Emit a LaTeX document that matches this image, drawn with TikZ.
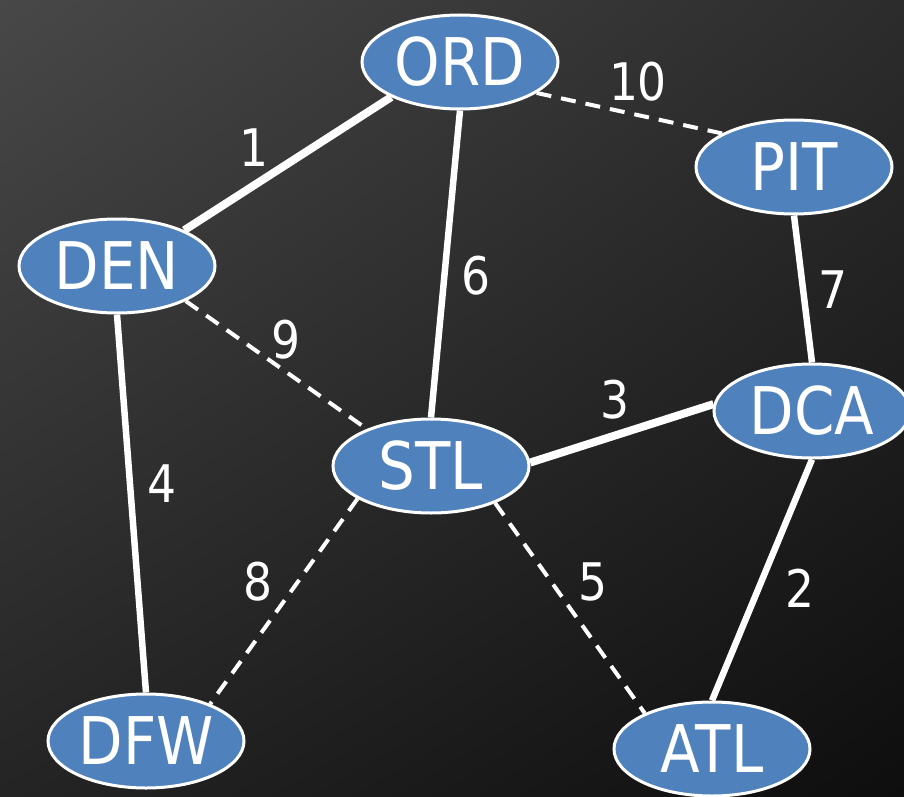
\documentclass[tikz,border=0pt]{standalone}
\usepackage{fontspec}
\setmainfont{DejaVu Sans}[FakeStretch=0.88]
\usetikzlibrary{shapes.geometric,shadings}
\definecolor{nodeblue}{HTML}{4F81BD}
\definecolor{bgA}{HTML}{484848}
\definecolor{bgB}{HTML}{2C2C2C}
\definecolor{bgC}{HTML}{242424}
\definecolor{bgD}{HTML}{0E0E0E}
\tikzset{
  city/.style={ellipse, draw=white, line width=3bp, fill=nodeblue,
    minimum width=196bp, minimum height=94bp, inner sep=0pt,
    text=white, font=\fontsize{66}{70}\selectfont},
  road/.style={draw=white, line width=6.5bp},
  mainroad/.style={draw=white, line width=8bp},
  altroad/.style={draw=white, line width=4bp, dash pattern=on 15bp off 10bp},
  cost/.style={text=white, inner sep=0pt, font=\fontsize{52}{56}\selectfont}
}
\begin{document}
\begin{tikzpicture}[x=1bp,y=-1bp]
  % dark shaded backdrop
  \shade[upper left=bgA, upper right=bgB, lower left=bgC, lower right=bgD]
    (0,0) rectangle (904,797);
  \useasboundingbox (0,0) rectangle (904,797);

  % city positions
  \coordinate (pORD) at (460,62);
  \coordinate (pPIT) at (794,167);
  \coordinate (pDEN) at (117,266);
  \coordinate (pDCA) at (812,411);
  \coordinate (pSTL) at (431,466);
  \coordinate (pDFW) at (146,741);
  \coordinate (pATL) at (712,749);

  % cities
  \node[city] (ORD) at (pORD) {ORD};
  \node[city] (PIT) at (pPIT) {PIT};
  \node[city] (DEN) at (pDEN) {DEN};
  \node[city] (DCA) at (pDCA) {DCA};
  \node[city] (STL) at (pSTL) {STL};
  \node[city] (DFW) at (pDFW) {DFW};
  \node[city] (ATL) at (pATL) {ATL};

  % routes
  \draw[mainroad] (ORD.207) -- (DEN.28);
  \draw[road] (ORD.south) -- (STL.north);
  \draw[altroad] (ORD.-22) -- (PIT.155);
  \draw[altroad] (DEN.-27) -- (STL.150);
  \draw[road] (DEN.south) -- (DFW.north);
  \draw[road] (PIT.south) -- (DCA.north);
  \draw[mainroad] (STL.2) -- (DCA.176);
  \draw[altroad] (STL.204) -- (DFW.30);
  \draw[altroad] (STL.-30) -- (ATL.152);
  \draw[road] (DCA.south) -- (ATL.north);

  % route costs
  \node[cost] (c1)  at (254,148) {1};
  \node[cost] (c10) at (638,82)  {10};
  \node[cost] (c6)  at (476,276) {6};
  \node[cost] (c7)  at (833,290) {7};
  \node[cost] (c9)  at (286,340) {9};
  \node[cost] (c3)  at (615,400) {3};
  \node[cost] (c4)  at (162,484) {4};
  \node[cost] (c8)  at (258,582) {8};
  \node[cost] (c5)  at (593,582) {5};
  \node[cost] (c2)  at (800,588) {2};
\end{tikzpicture}
\end{document}
